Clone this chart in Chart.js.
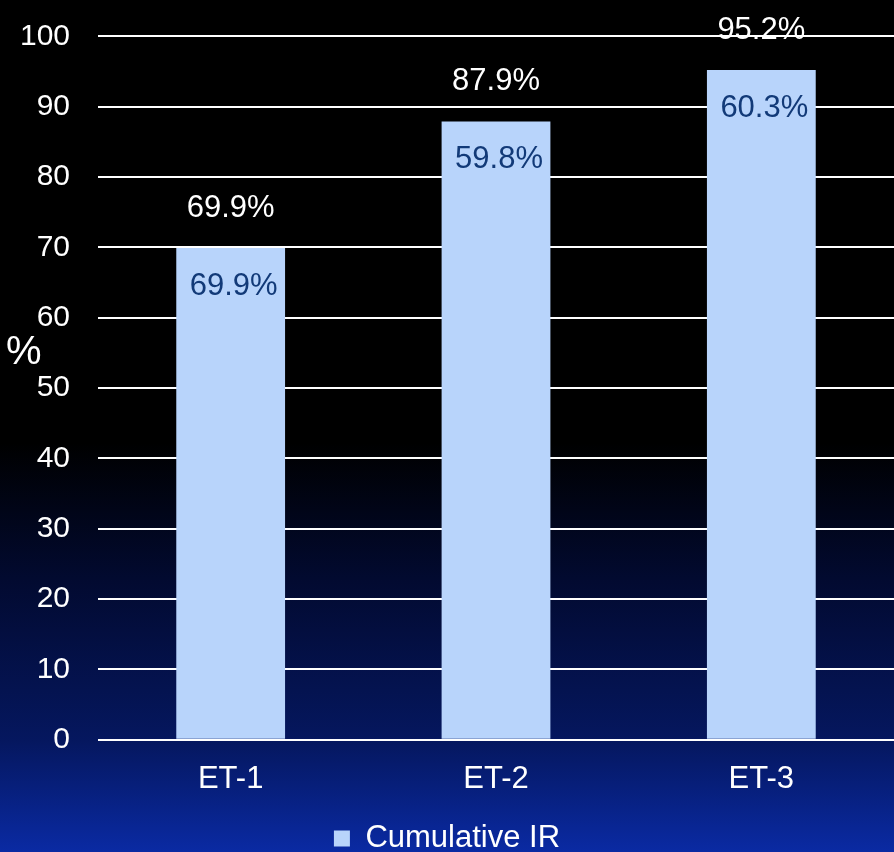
<!DOCTYPE html>
<html>
<head>
<meta charset="utf-8">
<script src="https://cdn.jsdelivr.net/npm/chart.js@4/dist/chart.umd.min.js"></script>
<style>
  html, body { margin: 0; padding: 0; }
  body {
    width: 894px; height: 852px; overflow: hidden;
    background: linear-gradient(to bottom, #000000 0%, #000000 52%, #020a30 68%, #05175f 87%, #0a2aa3 100%);
  }
  #wrap { position: relative; width: 894px; height: 852px; }
</style>
</head>
<body>
<div id="wrap"><canvas id="irChart" width="894" height="852"></canvas></div>
<script>
// chart data
var categories = ["ET-1", "ET-2", "ET-3"];
var cumulativeIR = [69.9, 87.9, 95.2];
var innerLabels = [69.9, 59.8, 60.3];
var yTicks = [0, 10, 20, 30, 40, 50, 60, 70, 80, 90, 100];

var fontFamily = "'Liberation Sans', Arial, sans-serif";
Chart.defaults.font.family = fontFamily;
Chart.defaults.color = '#ffffff';

// draws the white total above each bar and the navy value inside it
var barLabels = {
  id: 'barLabels',
  afterDatasetsDraw: function(chart){
    var ctx = chart.ctx;
    var meta = chart.getDatasetMeta(0);
    ctx.save();
    ctx.font = '31px ' + fontFamily;
    ctx.textAlign = 'center';
    ctx.textBaseline = 'middle';
    meta.data.forEach(function(bar, i){
      ctx.fillStyle = '#ffffff';
      ctx.fillText(cumulativeIR[i].toFixed(1) + '%', bar.x, bar.y - 40);
      ctx.fillStyle = '#123a78';
      ctx.fillText(innerLabels[i].toFixed(1) + '%', bar.x + 3, bar.y + 38);
    });
    ctx.restore();
  }
};

// horizontal "%" axis title on the left
var axisTitle = {
  id: 'axisTitle',
  afterDraw: function(chart){
    var ctx = chart.ctx;
    var y = chart.scales.y.getPixelForValue(55);
    ctx.save();
    ctx.font = '40px ' + fontFamily;
    ctx.fillStyle = '#ffffff';
    ctx.textAlign = 'left';
    ctx.textBaseline = 'middle';
    ctx.fillText('%', 6, y);
    ctx.restore();
  }
};

new Chart(document.getElementById('irChart'), {
  type: 'bar',
  data: {
    labels: categories,
    datasets: [{
      label: 'Cumulative IR',
      data: cumulativeIR,
      backgroundColor: '#b8d4fb',
      borderWidth: 0,
      categoryPercentage: 1.0,
      barPercentage: 0.41
    }]
  },
  options: {
    responsive: false,
    animation: false,
    layout: {
      padding: { top: 0, left: 0, right: 0, bottom: -12 }
    },
    scales: {
      x: {
        grid: { display: false },
        border: { display: false },
        ticks: { color: '#ffffff', font: { size: 31 }, padding: 13 }
      },
      y: {
        min: 0,
        max: 100,
        afterBuildTicks: function(scale){
          scale.ticks = yTicks.map(function(v){ return { value: v }; });
        },
        afterFit: function(scale){
          scale.width = 98;
        },
        grid: { color: '#ffffff', lineWidth: 2, drawTicks: false },
        border: { display: false },
        ticks: { color: '#ffffff', font: { size: 30, lineHeight: 0.55 }, padding: 28 }
      }
    },
    plugins: {
      legend: {
        position: 'bottom',
        labels: {
          color: '#ffffff',
          font: { size: 31 },
          boxWidth: 16,
          boxHeight: 16,
          padding: 12
        }
      },
      tooltip: { enabled: false }
    }
  },
  plugins: [barLabels, axisTitle]
});
</script>
</body>
</html>
